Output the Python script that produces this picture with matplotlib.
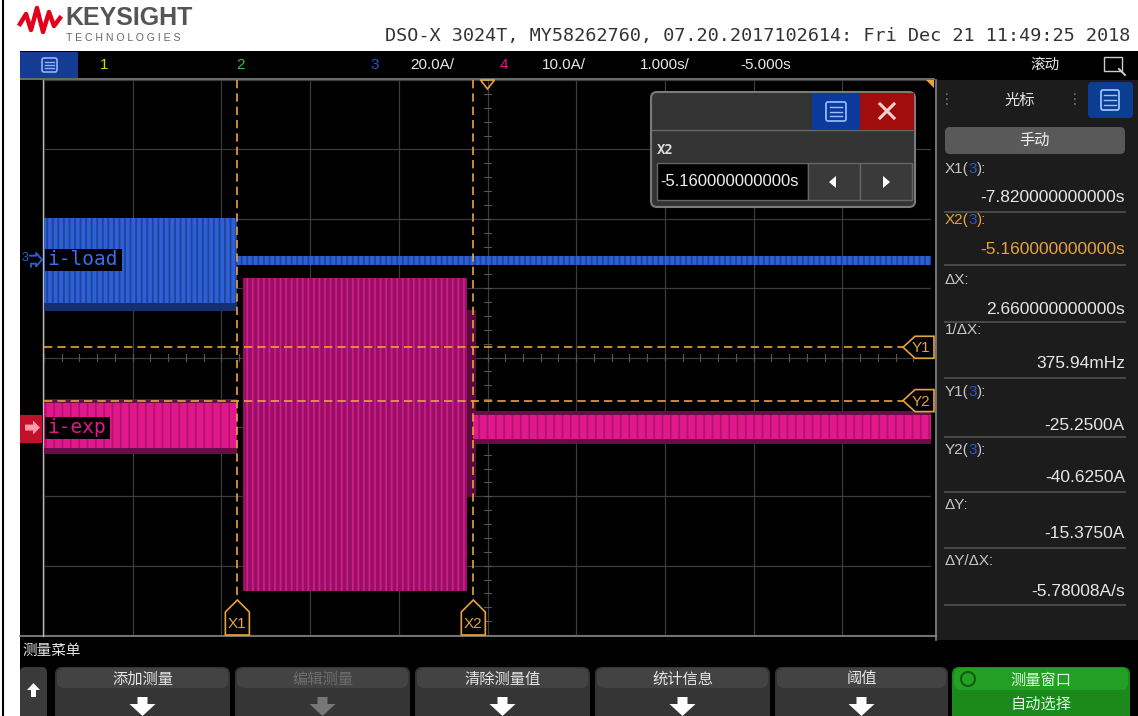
import matplotlib.pyplot as plt
from matplotlib.patches import Rectangle, FancyBboxPatch, Polygon
from matplotlib import font_manager

# 示波器截图里读出来的数据
title_text = 'DSO-X 3024T, MY58262760, 07.20.2017102614: Fri Dec 21 11:49:25 2018'
time_per_div = 1.0      # s/div
time_offset = -5.0      # s
ch3_scale = 20.0        # A/div
ch4_scale = 10.0        # A/div
ch3_pos = 1.41          # 地电平位置(格)
ch4_pos = -1.01

# i-load 包络：每段的起止时间(s)和最小/最大电流(A)
load_t0 = [-10.0, -7.82]
load_t1 = [-7.82, 0.0]
load_lo = [-12.5, -1.4]
load_hi = [12.0, 1.2]

# i-exp 包络
exp_t0 = [-10.0, -7.76, -5.16]
exp_t1 = [-7.82, -5.23, 0.0]
exp_lo = [-3.0, -23.5, -1.6]
exp_hi = [3.5, 21.5, 1.8]

# 光标
cur_x = [-7.82, -5.16]
cur_y = [-25.25, -40.625]
cur_x_names = ['X1', 'X2']
cur_y_names = ['Y1', 'Y2']

panel_names = ['X1(3):', 'X2(3):', 'ΔX:', '1/ΔX:', 'Y1(3):', 'Y2(3):', 'ΔY:', 'ΔY/ΔX:']
panel_values = ['-7.820000000000s', '-5.160000000000s', '2.660000000000s', '375.94mHz',
                '-25.2500A', '-40.6250A', '-15.3750A', '-5.78008A/s']

softkeys = ['添加测量', '编辑测量', '清除测量值', '统计信息', '阈值', '测量窗口\n自动选择']

# ---------------- 样式 ----------------
plt.rcParams['font.family'] = ['Noto Sans CJK SC', 'DejaVu Sans']
plt.rcParams['hatch.linewidth'] = 1.3
names = {f.name for f in font_manager.fontManager.ttflist}
NUM = 'Liberation Sans Narrow' if 'Liberation Sans Narrow' in names else 'Liberation Sans'
MONO = 'DejaVu Sans Mono'

ORANGE = '#e8a33c'
BLUE = '#2d5fd6'
MAG = '#e0188c'
GRID = '#3c3c3c'

W, H = 1138, 716
fig = plt.figure(figsize=(W / 100, H / 100), dpi=100)
fig.patch.set_facecolor('white')

bg = fig.add_axes([0, 0, 1, 1], zorder=0)
bg.set_xlim(0, W)
bg.set_ylim(H, 0)
bg.axis('off')

gx0, gx1, gy0, gy1 = 44, 931, 80, 635
ax = fig.add_axes([gx0 / W, 1 - gy1 / H, (gx1 - gx0) / W, (gy1 - gy0) / H], zorder=1)
ax.set_xlim(time_offset - 5 * time_per_div, time_offset + 5 * time_per_div)
ax.set_ylim(-4, 4)
ax.axis('off')

fg = fig.add_axes([0, 0, 1, 1], zorder=2)
fg.set_xlim(0, W)
fg.set_ylim(H, 0)
fg.axis('off')


def px(t, d):
    return bg.transData.inverted().transform(ax.transData.transform((t, d)))


def rect(a, x0, y0, x1, y1, fc, ec='none', lw=0, z=1, r=None):
    if r:
        p = FancyBboxPatch((x0, y0), x1 - x0, y1 - y0, boxstyle=f'round,pad=0,rounding_size={r}',
                           fc=fc, ec=ec, lw=lw, zorder=z)
    else:
        p = Rectangle((x0, y0), x1 - x0, y1 - y0, fc=fc, ec=ec, lw=lw, zorder=z)
    a.add_patch(p)
    return p


# ---- 顶部白色标题区 ----
bg.plot([3.5, 3.5], [0, H], color='black', lw=1.5)
bg.plot([20, 26, 31, 37, 43, 49, 54, 60], [24, 14, 30, 8, 32, 12, 26, 18], color='#e2001a', lw=3.2,
        solid_joinstyle='round')
bg.text(65, 18, 'KEYSIGHT', fontsize=18, fontweight='bold', color='#555555', va='center',
        family='Liberation Sans')
bg.text(66, 38, 'T E C H N O L O G I E S', fontsize=7.6, color='#666666', va='center',
        family='Liberation Sans')
bg.text(1130, 36, title_text, fontsize=13.3, color='#333333', va='center', ha='right', family=MONO)

# ---- 屏幕底色 ----
rect(bg, 20, 51, W, H, '#000000')
rect(bg, 20, 78, gx1 + 4, 80, '#6a6a6a')
rect(bg, 937, 80, W, 640, '#1c1c1c')
bg.plot([936, 936], [80, 640], color='#8a8a8a', lw=1.2)
bg.plot([20, 936], [636, 636], color='#8a8a8a', lw=1.2)
bg.plot([43, 43], [80, 636], color='#bbbbbb', lw=1.0)

# 工具栏
rect(bg, 20, 52, 78, 78, '#143c94')
rect(bg, 42, 58, 57, 72, 'none', '#8fb4ff', 1.2, z=2, r=2)
for yy in (62, 65, 68):
    bg.plot([45, 54], [yy, yy], color='#8fb4ff', lw=1)
tb = [('1', '#d6d61a', 100), ('2', '#3cbf3c', 236), ('3', '#3050d0', 370), ('20.0A/', '#e8e8e8', 410),
      ('4', MAG, 500), ('10.0A/', '#e8e8e8', 542), ('1.000s/', '#e8e8e8', 640), ('-5.000s', '#e8e8e8', 740)]
for s, c, x in tb:
    bg.text(x, 65, s, color=c, fontsize=11, va='center', family=NUM)
bg.text(1030, 65, '滚动', color='#e8e8e8', fontsize=10.5, va='center')
rect(bg, 1104, 57, 1122, 71, 'none', '#cccccc', 1, z=2)
bg.plot([1119, 1125], [69, 75], color='#cccccc', lw=1.4)

# ---- 网格 ----
for k in range(11):
    ax.axvline(time_offset + (k - 5) * time_per_div, color=GRID, lw=0.9, zorder=0)
for k in range(9):
    ax.axhline(k - 4, color=GRID, lw=0.9, zorder=0)
for k in range(51):
    t = time_offset + (k - 25) * time_per_div / 5
    ax.plot([t, t], [-0.05, 0.05], color='#555555', lw=0.8, zorder=0)
for k in range(41):
    d = (k - 20) / 5
    ax.plot([time_offset - 0.04, time_offset + 0.04], [d, d], color='#555555', lw=0.8, zorder=0)

# ---- 波形 ----
for i, (t0, t1, lo, hi) in enumerate(zip(load_t0, load_t1, load_lo, load_hi)):
    a, b = lo / ch3_scale + ch3_pos, hi / ch3_scale + ch3_pos
    if i == 0:
        ax.fill_between([t0, t1], a - 0.12, b, color='#14306e', lw=0, zorder=2)
    ax.fill_between([t0, t1], a, b, color=BLUE, lw=0, zorder=3)
    ax.fill_between([t0, t1], a, b, facecolor='none', edgecolor='#1e4399', hatch='|||', lw=0, zorder=4)

for i, (t0, t1, lo, hi) in enumerate(zip(exp_t0, exp_t1, exp_lo, exp_hi)):
    a, b = lo / ch4_scale + ch4_pos, hi / ch4_scale + ch4_pos
    if i == 1:
        ax.fill_between([t0, t1], a, b, color='#9a0f66', lw=0, zorder=2)
        ax.fill_between([t0, t1], a, b, facecolor='none', edgecolor='#d01c86', hatch='|||', lw=0, zorder=3)
        ax.fill_between([t1, t1 + 0.1], a * 0.6, b * 0.6, color='#5a0a3c', lw=0, zorder=2)
    else:
        ax.fill_between([t0, t1], a - 0.08, b + 0.06, color='#6a0c46', lw=0, zorder=2)
        ax.fill_between([t0, t1], a, b, color=MAG, lw=0, zorder=3)
        ax.fill_between([t0, t1], a, b, facecolor='none', edgecolor='#b5126f', hatch='||', lw=0, zorder=4)

# ---- 通道标签 ----
_, g3 = px(time_offset, ch3_pos)
_, g4 = px(time_offset, ch4_pos)
fg.text(22, g3 - 2, '3', color=BLUE, fontsize=9, va='center', family=NUM)
fg.add_patch(Polygon([[29, g3 - 4], [36, g3 - 4], [36, g3 - 7], [42, g3], [36, g3 + 7], [36, g3 + 4],
                      [31, g3 + 4], [31, g3 + 8]], closed=False, fc='none', ec=BLUE, lw=1.3))
rect(fg, 45, g3 - 11, 122, g3 + 11, '#000000', z=1)
fg.text(47, g3, 'i-load', color='#3a6ef0', fontsize=14, va='center', family=MONO)

rect(fg, 20, g4 - 13, 42, g4 + 15, '#c0102c', z=1)
fg.add_patch(Polygon([[25, g4 - 3], [33, g4 - 3], [33, g4 - 7], [40, g4], [33, g4 + 7], [33, g4 + 3],
                      [25, g4 + 3]], closed=True, fc='#ff9aa8', ec='none', zorder=2))
rect(fg, 45, g4 - 11, 110, g4 + 11, '#000000', z=1)
fg.text(47, g4, 'i-exp', color=MAG, fontsize=14, va='center', family=MONO)

# ---- 光标 ----
for t, name in zip(cur_x, cur_x_names):
    ax.axvline(t, color=ORANGE, lw=1.2, ls=(0, (5, 3)), zorder=5)
    cx, _ = px(t, 0)
    fg.add_patch(Polygon([[cx - 12, 635], [cx - 12, 612], [cx, 600], [cx + 12, 612], [cx + 12, 635]],
                         closed=True, fc='#000000', ec=ORANGE, lw=1.2, zorder=3))
    fg.text(cx, 624, name, color=ORANGE, fontsize=11, ha='center', va='center', family=NUM, zorder=4)

for v, name in zip(cur_y, cur_y_names):
    d = v / ch3_scale + ch3_pos
    ax.axhline(d, color=ORANGE, lw=1.2, ls=(0, (5, 3)), zorder=5)
    _, cy = px(time_offset, d)
    fg.add_patch(Polygon([[934, cy - 11], [915, cy - 11], [903, cy], [915, cy + 11], [934, cy + 11]],
                         closed=True, fc='#000000', ec=ORANGE, lw=1.2, zorder=3))
    fg.text(921, cy + 1, name, color=ORANGE, fontsize=11, ha='center', va='center', family=NUM, zorder=4)

# 触发位置标记
tx, _ = px(time_offset, 0)
fg.add_patch(Polygon([[tx - 7, 80], [tx + 7, 80], [tx, 89]], closed=True, fc='none', ec=ORANGE, lw=1.2))
fg.add_patch(Polygon([[926, 80], [934, 80], [934, 88]], closed=True, fc=ORANGE, ec='none'))

# ---- X2 弹出框 ----
rect(fg, 651, 92, 915, 207, '#333333', '#7a7a7a', 1.5, z=5, r=6)
fg.plot([652, 914], [130, 130], color='#666666', lw=1, zorder=6)
rect(fg, 812, 93, 860, 130, '#0b3a9c', z=6)
rect(fg, 826, 102, 846, 121, 'none', '#9cc0ff', 1.2, z=7, r=2)
for yy in (107, 111.5, 116):
    fg.plot([830, 842], [yy, yy], color='#9cc0ff', lw=1, zorder=7)
rect(fg, 860, 93, 914, 130, '#a10c0c', z=6)
fg.plot([880, 894], [104, 118], color='#ffd0d0', lw=2.2, zorder=7)
fg.plot([880, 894], [118, 104], color='#ffd0d0', lw=2.2, zorder=7)
fg.text(657, 150, 'X2', color='#dddddd', fontsize=10, va='center', family=MONO, fontweight='bold', zorder=7)
rect(fg, 657, 163, 808, 200, '#000000', '#666666', 1, z=6)
rect(fg, 808, 163, 860, 200, '#3a3a3a', '#666666', 1, z=6)
rect(fg, 860, 163, 912, 200, '#3a3a3a', '#666666', 1, z=6)
fg.text(660, 182, panel_values[1], color='#f0f0f0', fontsize=12, va='center', family=NUM, zorder=7)
fg.add_patch(Polygon([[829, 182], [836, 176], [836, 188]], closed=True, fc='white', ec='none', zorder=7))
fg.add_patch(Polygon([[890, 182], [883, 176], [883, 188]], closed=True, fc='white', ec='none', zorder=7))

# ---- 右侧光标面板 ----
for gx in (946, 1074):
    for yy in (94, 99, 104):
        fg.plot([gx, gx + 3], [yy, yy], color='#777777', lw=1.2, ls=(0, (1, 2)))
fg.text(1020, 100, '光标', color='#e6e6e6', fontsize=11, ha='center', va='center')
rect(fg, 1088, 82, 1133, 118, '#0b3d91', z=1, r=4)
rect(fg, 1101, 90, 1119, 110, 'none', '#9cc0ff', 1.3, z=2, r=2)
for yy in (95, 100, 105):
    fg.plot([1104, 1116], [yy, yy], color='#9cc0ff', lw=1, zorder=3)
rect(fg, 945, 127, 1125, 154, '#595959', z=1, r=5)
fg.text(1035, 140, '手动', color='#f0f0f0', fontsize=11, ha='center', va='center')

label_y = [169, 220, 280, 330, 392, 450, 505, 561]
value_y = [197, 250, 310, 364, 426, 478, 534, 592]
sep_y = [212, 265, 322, 378, 437, 492, 548, 605]
renderer = fig.canvas.get_renderer()
for i, (nm, val) in enumerate(zip(panel_names, panel_values)):
    col = ORANGE if i == 1 else '#c8c8c8'
    vcol = ORANGE if i == 1 else '#e6e6e6'
    if '(3)' in nm:
        parts = [(nm[:3], col), ('3', '#2f55c8'), ('):', col)]
    else:
        parts = [(nm, col)]
    x = 945
    for s, c in parts:
        t = fg.text(x, label_y[i], s, color=c, fontsize=11, va='center', family=NUM)
        x += t.get_window_extent(renderer=renderer).width
    fg.text(1125, value_y[i], val, color=vcol, fontsize=12.5, va='center', ha='right', family=NUM)
    fg.plot([945, 1125], [sep_y[i], sep_y[i]], color='#474747', lw=1.5)

# ---- 底部软键 ----
fg.text(22, 651, '测量菜单', color='#e6e6e6', fontsize=10.5, va='center')
rect(fg, 20, 667, 47, 730, '#3a3a3a', z=1, r=5)
fg.add_patch(Polygon([[33.5, 683], [27, 690], [31, 690], [31, 697], [36, 697], [36, 690], [40, 690]],
                     closed=True, fc='white', ec='none', zorder=2))
key_x = [(55, 230), (235, 410), (415, 590), (595, 770), (775, 948), (952, 1130)]
for i, (label, (x0, x1)) in enumerate(zip(softkeys, key_x)):
    xc = (x0 + x1) / 2
    if i == len(softkeys) - 1:
        rect(fg, x0, 667, x1, 730, '#1b8a1b', z=1, r=7)
        rect(fg, x0 + 2, 668, x1 - 2, 690, '#23a023', z=1, r=7)
        fg.add_patch(plt.Circle((968, 679), 7, fc='none', ec='#0f5e0f', lw=1.5, zorder=2))
        l1, l2 = label.split('\n')
        fg.text(xc, 680, l1, color='#e0f5e0', fontsize=11, ha='center', va='center', zorder=3)
        fg.text(xc, 704, l2, color='#e0f5e0', fontsize=11, ha='center', va='center', zorder=3)
        continue
    rect(fg, x0, 667, x1, 730, '#353535', z=1, r=7)
    rect(fg, x0 + 2, 668, x1 - 2, 688, '#434343', z=1, r=7)
    c = '#6e6e6e' if i == 1 else '#e6e6e6'
    fg.text(xc, 679, label, color=c, fontsize=11, ha='center', va='center', zorder=3)
    ac = '#777777' if i == 1 else 'white'
    fg.add_patch(Polygon([[xc - 5, 697], [xc + 5, 697], [xc + 5, 704], [xc + 13, 704], [xc, 716],
                          [xc - 13, 704], [xc - 5, 704]], closed=True, fc=ac, ec='none', zorder=3))

fig.savefig('out.png', dpi=100, facecolor='white')
